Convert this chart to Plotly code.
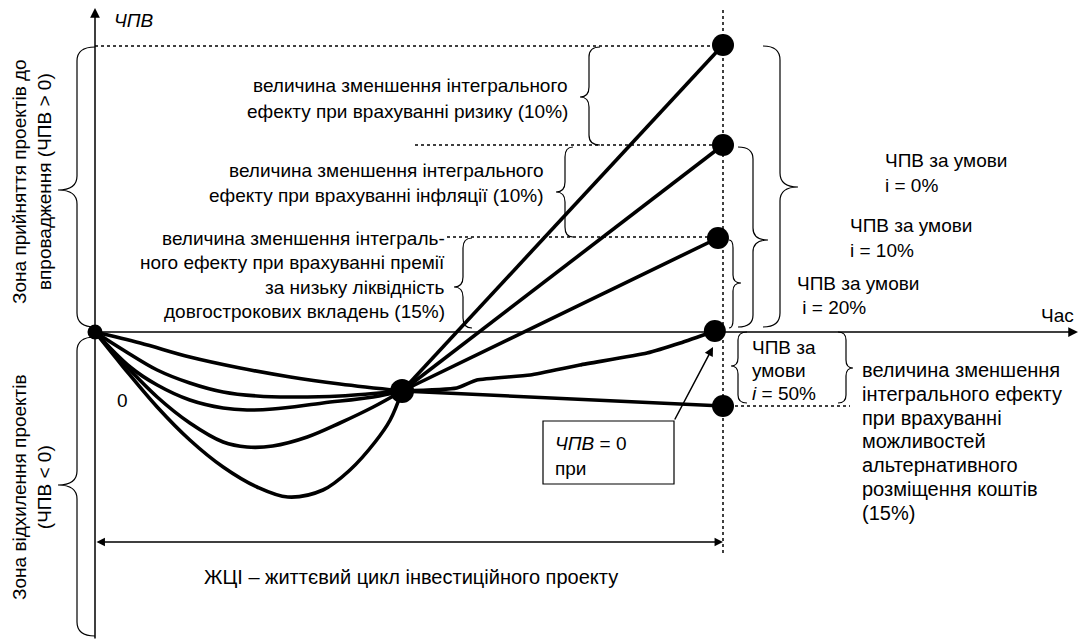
import plotly.graph_objects as go

# ---------------- data (time in years, NPV in conventional units) ----------------
T_CROSS = 4.89          # time of the common crossing point
NPV_CROSS = -5.9        # NPV at the common crossing point

t_i0 = [0, 0.45, 0.99, 1.51, 2.04, 2.58, 3.07, 3.63, 4.06, 4.46, 4.70, 4.89, 10.0]
npv_i0 = [0, -3.5, -7.5, -10.8, -13.5, -15.5, -16.5, -15.8, -13.8, -11.0, -8.8, -5.9, 28.7]

t_i10 = [0, 0.45, 0.99, 1.51, 2.04, 2.42, 2.83, 3.38, 3.90, 4.43, 4.89, 10.0]
npv_i10 = [0, -3.1, -6.5, -9.1, -11.0, -11.5, -11.4, -10.5, -9.1, -7.5, -5.9, 18.7]

t_i20 = [0, 0.56, 0.99, 1.51, 2.04, 2.42, 2.83, 3.63, 4.43, 4.89, 9.92]
npv_i20 = [0, -3.5, -5.3, -6.8, -7.6, -7.8, -7.7, -7.1, -6.5, -5.9, 9.4]

t_irr = [0, 0.45, 0.99, 1.51, 2.04, 2.58, 3.11, 3.90, 4.89, 5.76, 6.08, 6.93, 7.72, 8.79, 9.32, 9.87]
npv_irr = [0, -1.8, -3.8, -5.1, -6.0, -6.4, -6.5, -6.4, -5.9, -5.6, -4.8, -4.3, -3.3, -2.1, -1.1, 0.1]

t_i50 = [0, 0.72, 1.51, 2.31, 3.11, 3.90, 4.89, 10.0]
npv_i50 = [0, -1.1, -2.5, -3.6, -4.5, -5.2, -5.9, -7.4]

T_LIFE = 10.0           # end of the project life cycle

# ---------------- geometry helpers (screen pixel -> data) ----------------
X0, SX, Y0, SY = 95, 62.8, 332, 10.0
W, H = 1090, 640
PAGE_OFF = 8            # default body margin of the html page


def X(px):
    return (px - X0) / SX


def Y(py):
    return (Y0 - py) / SY


FONT = "Liberation Sans, Arial, sans-serif"
FS = 19

fig = go.Figure()

series = [(t_i0, npv_i0, False), (t_i10, npv_i10, False), (t_i20, npv_i20, False),
          (t_irr, npv_irr, True), (t_i50, npv_i50, False)]
ends_x, ends_y = [], []
for t, v, wavy in series:
    k = t.index(T_CROSS)
    fig.add_trace(go.Scatter(x=t[:k + 1], y=v[:k + 1], mode="lines",
                             line=dict(color="black", width=3.6, shape="spline", smoothing=1.0),
                             hoverinfo="skip"))
    fig.add_trace(go.Scatter(x=t[k:], y=v[k:], mode="lines",
                             line=dict(color="black", width=3.6,
                                       shape="spline" if wavy else "linear", smoothing=0.5),
                             hoverinfo="skip"))
    ends_x.append(t[-1])
    ends_y.append(v[-1])

fig.add_trace(go.Scatter(x=ends_x, y=ends_y, mode="markers",
                         marker=dict(color="black", size=22), hoverinfo="skip"))
fig.add_trace(go.Scatter(x=[T_CROSS], y=[NPV_CROSS], mode="markers",
                         marker=dict(color="black", size=24), hoverinfo="skip"))
fig.add_trace(go.Scatter(x=[0], y=[0], mode="markers",
                         marker=dict(color="black", size=15), hoverinfo="skip"))

shapes = []
annotations = []


def line_px(x1, y1, x2, y2, dash="solid", width=1.5, layer="below"):
    shapes.append(dict(type="line", xref="x", yref="y", x0=X(x1), y0=Y(y1), x1=X(x2), y1=Y(y2),
                       line=dict(color="black", width=width, dash=dash), layer=layer))


def brace(xe, xv, xt, y1, y2, ym, dv=10):
    """Vertical curly brace; ends at xe, vertical stroke at xv, tip at xt (pixels)."""
    d1 = min(dv, (ym - y1) / 2)
    d2 = min(dv, (y2 - ym) / 2)
    pts = [
        ("M", [(xe, y1)]),
        ("Q", [(xv, y1), (xv, y1 + d1)]),
        ("L", [(xv, ym - d1)]),
        ("Q", [(xv, ym), (xt, ym)]),
        ("Q", [(xv, ym), (xv, ym + d2)]),
        ("L", [(xv, y2 - d2)]),
        ("Q", [(xv, y2), (xe, y2)]),
    ]
    path = " ".join(cmd + " " + " ".join(f"{X(a):.4f},{Y(b):.4f}" for a, b in p) for cmd, p in pts)
    shapes.append(dict(type="path", xref="x", yref="y", path=path,
                       line=dict(color="black", width=1.2), layer="below"))


def arrow_px(xh, yh, xt, yt, both=False, width=1.5, size=1.3):
    annotations.append(dict(x=X(xh), y=Y(yh), ax=X(xt), ay=Y(yt), xref="x", yref="y",
                            axref="x", ayref="y", text="", showarrow=True, arrowhead=2,
                            arrowsize=size, arrowwidth=width, arrowcolor="black",
                            arrowside="end+start" if both else "end", standoff=0, startstandoff=0))


def text_px(x, y, s, xanchor="left", align="left", size=FS, angle=0):
    annotations.append(dict(x=X(x), y=Y(y), xref="x", yref="y", text=s, showarrow=False,
                            xanchor=xanchor, yanchor="middle", align=align, textangle=angle,
                            font=dict(family=FONT, size=size, color="black")))


def text_lines(x, y_first, lines, spacing, xanchor="left", size=FS):
    for j, s in enumerate(lines):
        text_px(x, y_first + j * spacing, s, xanchor=xanchor, align=xanchor
                if xanchor != "center" else "center", size=size)


# axes
arrow_px(95, 8, 95, 640)
arrow_px(1078, 332, 95, 332)
# life cycle arrow
arrow_px(723, 542, 95, 542, both=True, width=1.3)
# arrow from box to IRR point
arrow_px(713, 347, 674, 421, width=1.5, size=1.2)

# dotted guide lines
line_px(95, 46, 723, 46, dash="dot")
line_px(415, 145, 723, 145, dash="dot")
line_px(447, 237, 718, 237, dash="dot")
line_px(723, 406, 850, 406, dash="dot")
line_px(723, 10, 723, 556, dash="dot")

# braces
brace(95, 77, 58, 47, 327, 190, dv=14)
brace(95, 77, 58, 337, 636, 485, dv=14)
brace(600, 589, 580, 47, 145, 97)
brace(573, 565, 556, 147, 237, 192)
brace(472, 463, 454, 238, 328, 287)
brace(763, 780, 798, 46, 327, 187, dv=14)
brace(738, 753, 768, 147, 327, 240, dv=12)
brace(729, 733, 741, 240, 328, 283, dv=8)
brace(747, 738, 731, 332, 403, 366, dv=8)
brace(838, 846, 853, 332, 403, 368, dv=8)

# box "ЧПВ = 0 при"
shapes.append(dict(type="rect", xref="x", yref="y", x0=X(543), y0=Y(421), x1=X(674), y1=Y(484),
                   line=dict(color="black", width=1.2), fillcolor="white", layer="above"))

# texts
text_px(112, 20, "<i>ЧПВ</i>")
text_px(1057, 315, "Час", xanchor="center")
text_px(122, 400, "0", xanchor="center")
text_px(32, 182, "Зона прийняття проектів до<br>впровадження (ЧПВ &gt; 0)", xanchor="center",
        align="center", angle=-90)
text_px(32, 487, "Зона відхилення проектів<br>(ЧПВ &lt; 0)", xanchor="center",
        align="center", angle=-90)
text_lines(570, 85, ["величина зменшення інтегрального",
                     "ефекту при врахуванні ризику (10%)"], 26, xanchor="right")
text_lines(546, 170, ["величина зменшення інтегрального",
                      "ефекту при врахуванні інфляції (10%)"], 25, xanchor="right")
text_lines(447, 238, ["величина зменшення інтеграль-",
                      "ного ефекту при врахуванні премії",
                      "за низьку ліквідність",
                      "довгострокових вкладень (15%)"], 24.5, xanchor="right")
text_lines(883, 160, ["ЧПВ за умови", "i = 0%"], 25)
text_lines(848, 225, ["ЧПВ за умови", "i = 10%"], 25)
text_lines(795, 283, ["ЧПВ за умови", "\u00a0i = 20%"], 24)
text_lines(750, 347, ["ЧПВ за", "умови", "<i>i</i> = 50%"], 23)
text_lines(860, 370, ["величина зменшення", "інтегрального ефекту", "при врахуванні",
                      "можливостей", "альтернативного", "розміщення коштів", "(15%)"],
           23.8, size=20)
text_lines(553, 443, ["<i>ЧПВ</i> = 0", "при"], 25)
text_px(411, 577, "ЖЦІ – життєвий цикл інвестиційного проекту", xanchor="center", size=20)

fig.update_layout(
    width=W, height=H, margin=dict(l=0, r=0, t=0, b=0),
    paper_bgcolor="white", plot_bgcolor="white", showlegend=False,
    xaxis=dict(range=[X(PAGE_OFF), X(PAGE_OFF + W)], visible=False, fixedrange=True),
    yaxis=dict(range=[Y(PAGE_OFF + H), Y(PAGE_OFF)], visible=False, fixedrange=True),
    shapes=shapes, annotations=annotations,
    font=dict(family=FONT, size=FS, color="black"),
)

fig.write_html("out.html")
